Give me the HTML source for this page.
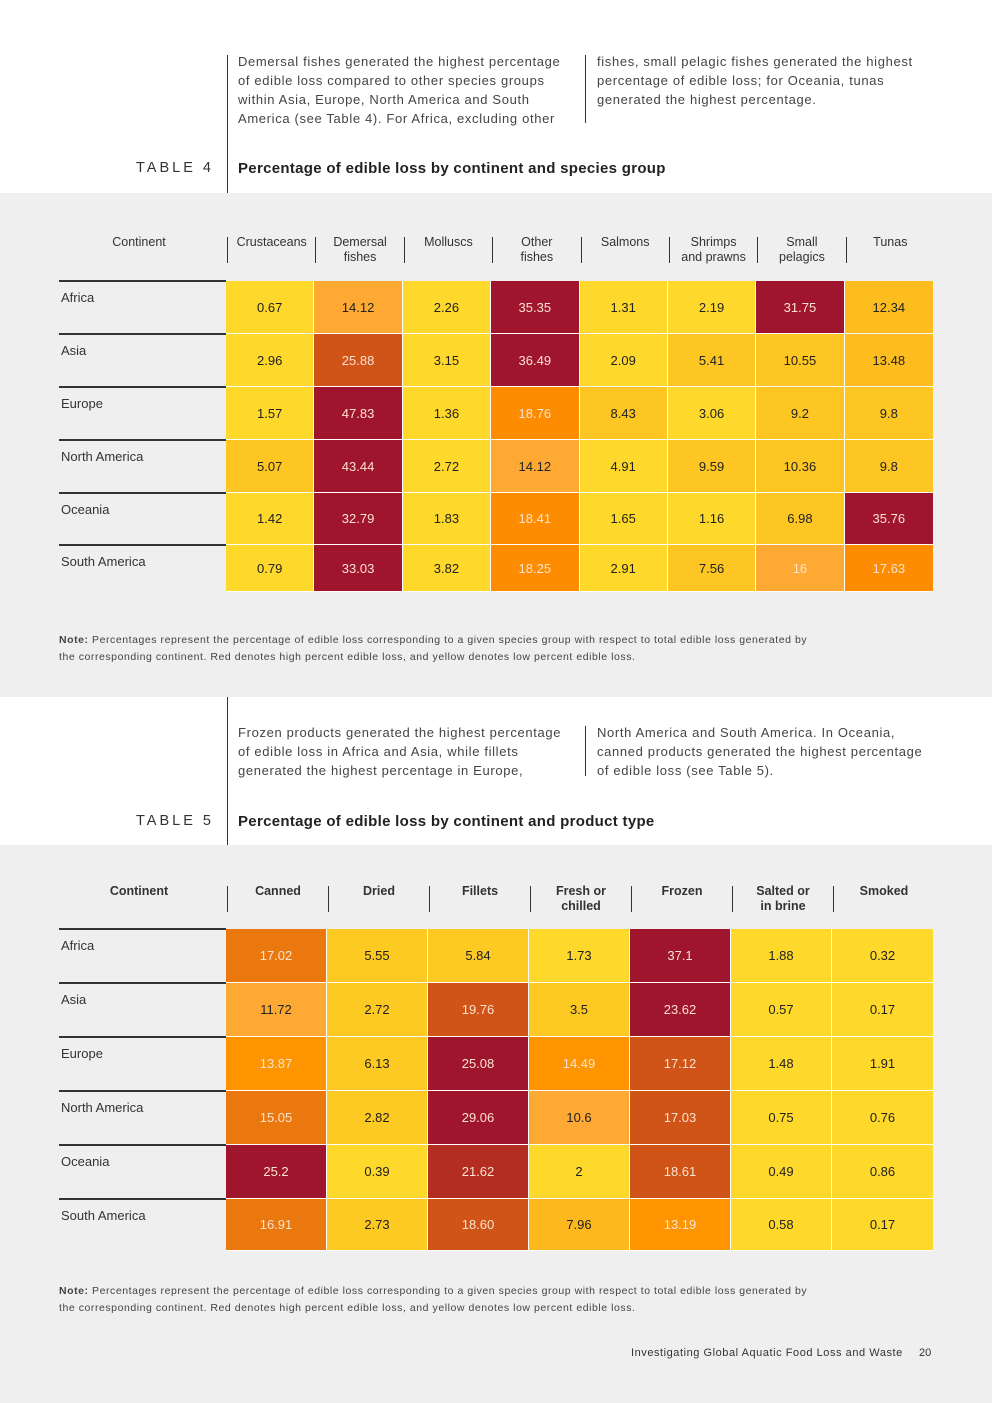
<!DOCTYPE html>
<html><head><meta charset="utf-8">
<style>
body{margin:0;width:992px;height:1403px;position:relative;font-family:"Liberation Sans",sans-serif;color:#333;background:#fff;overflow:hidden}
.abs{position:absolute}
.grey{position:absolute;left:0;width:992px;background:#efefef}
.para{position:absolute;font-size:13px;line-height:19px;color:#444;white-space:nowrap;letter-spacing:0.65px}
.vl{position:absolute;width:1px;background:#333}
.tl{position:absolute;font-size:14.5px;letter-spacing:3px;color:#333}
.tt{position:absolute;font-size:15px;font-weight:bold;color:#222;letter-spacing:0.3px}
.hd{position:absolute;font-size:12.5px;text-align:center;line-height:15px;color:#333}
.cell{position:absolute;box-sizing:border-box;border-right:1.5px solid #fff;border-bottom:1.5px solid #fff;display:flex;align-items:center;justify-content:center;font-size:13px}
.rl{position:absolute;font-size:13px;color:#333}
.rline{position:absolute;height:1.5px;background:#333;left:59px;width:167px}
.note{position:absolute;left:59px;font-size:10.5px;line-height:17px;color:#444;letter-spacing:0.55px;white-space:nowrap}
</style></head><body>
<div class="grey" style="top:193px;height:504px"></div>
<div class="grey" style="top:845px;height:558px"></div>

<div class="vl" style="left:227px;top:55px;height:138px"></div>
<div class="para" style="left:238px;top:52px">Demersal fishes generated the highest percentage<br>of edible loss compared to other species groups<br>within Asia, Europe, North America and South<br>America (see Table 4). For Africa, excluding other</div>
<div class="vl" style="left:585px;top:55px;height:68px"></div>
<div class="para" style="left:597px;top:52px">fishes, small pelagic fishes generated the highest<br>percentage of edible loss; for Oceania, tunas<br>generated the highest percentage.</div>
<div class="tl" style="left:136px;top:160px">TABLE 4</div>
<div class="tt" style="left:238px;top:160px">Percentage of edible loss by continent and species group</div>

<div class="vl" style="left:227px;top:697px;height:148px"></div>
<div class="para" style="left:238px;top:723px">Frozen products generated the highest percentage<br>of edible loss in Africa and Asia, while fillets<br>generated the highest percentage in Europe,</div>
<div class="vl" style="left:585px;top:726px;height:50px"></div>
<div class="para" style="left:597px;top:723px">North America and South America. In Oceania,<br>canned products generated the highest percentage<br>of edible loss (see Table 5).</div>
<div class="tl" style="left:136px;top:813px">TABLE 5</div>
<div class="tt" style="left:238px;top:813px">Percentage of edible loss by continent and product type</div>

<div class="note" style="top:632px"><b>Note:</b> Percentages represent the percentage of edible loss corresponding to a given species group with respect to total edible loss generated by<br>the corresponding continent. Red denotes high percent edible loss, and yellow denotes low percent edible loss.</div>
<div class="note" style="top:1283px"><b>Note:</b> Percentages represent the percentage of edible loss corresponding to a given species group with respect to total edible loss generated by<br>the corresponding continent. Red denotes high percent edible loss, and yellow denotes low percent edible loss.</div>
<div class="abs" style="left:631px;top:1347px;font-size:11px;color:#333;letter-spacing:0.55px">Investigating Global Aquatic Food Loss and Waste</div>
<div class="abs" style="left:919px;top:1347px;font-size:11px;color:#333">20</div>

<div id="t4"></div><div id="t5"></div>
<script>
const continents=["Africa","Asia","Europe","North America","Oceania","South America"];
const species=["Crustaceans","Demersal<br>fishes","Molluscs","Other<br>fishes","Salmons","Shrimps<br>and prawns","Small<br>pelagics","Tunas"];
const t4Values=[
["0.67","14.12","2.26","35.35","1.31","2.19","31.75","12.34"],
["2.96","25.88","3.15","36.49","2.09","5.41","10.55","13.48"],
["1.57","47.83","1.36","18.76","8.43","3.06","9.2","9.8"],
["5.07","43.44","2.72","14.12","4.91","9.59","10.36","9.8"],
["1.42","32.79","1.83","18.41","1.65","1.16","6.98","35.76"],
["0.79","33.03","3.82","18.25","2.91","7.56","16","17.63"]];
const products=["Canned","Dried","Fillets","Fresh or<br>chilled","Frozen","Salted or<br>in brine","Smoked"];
const t5Values=[
["17.02","5.55","5.84","1.73","37.1","1.88","0.32"],
["11.72","2.72","19.76","3.5","23.62","0.57","0.17"],
["13.87","6.13","25.08","14.49","17.12","1.48","1.91"],
["15.05","2.82","29.06","10.6","17.03","0.75","0.76"],
["25.2","0.39","21.62","2","18.61","0.49","0.86"],
["16.91","2.73","18.60","7.96","13.19","0.58","0.17"]];

function col4(v){if(v<5)return["#fed82a",0];if(v<12)return["#fdc623",0];if(v<14)return["#fdbd1f",0];if(v<15)return["#fda933",0];if(v<16.5)return["#fda933",1];if(v<20)return["#fd8c00",1];if(v<28)return["#d05318",1];return["#a0152e",1];}
function col5(v){if(v<2.5)return["#fed82a",0];if(v<7)return["#fdc923",0];if(v<10)return["#fdb81e",0];if(v<12)return["#fda933",0];if(v<15)return["#fd9400",1];if(v<17.025)return["#ea780f",1];if(v<21)return["#d05318",1];if(v<23)return["#b32d22",1];return["#a0152e",1];}

function build(root,cols,vals,o){
  const x0=226,x1=933,cw=(x1-x0)/cols.length;
  const ch=document.createElement('div');
  ch.className='hd';
  
  
  ch.style.cssText=`left:59px;width:160px;top:${o.hy}px;${o.bold?'font-weight:bold;':''}`;
  ch.innerHTML='Continent';
  root.appendChild(ch);
  cols.forEach((c,i)=>{
    const l=document.createElement('div');
    l.className='vl';
    l.style.cssText=`left:${Math.round(x0+1+i*cw)}px;top:${o.hy+2}px;height:26px`;
    root.appendChild(l);
    const h=document.createElement('div');
    h.className='hd';
    
    
    h.style.cssText=`left:${x0+i*cw+3}px;width:${cw-3}px;top:${o.hy}px;${o.bold?'font-weight:bold;':''}`;
    h.innerHTML=c;
    root.appendChild(h);
  });
  continents.forEach((r,ri)=>{
    const top=o.rows[ri],bot=o.rows[ri+1];
    const ln=document.createElement('div');
    ln.className='rline';
    ln.style.top=(top-1)+'px';
    root.appendChild(ln);
    const lb=document.createElement('div');
    lb.className='rl';
    
    
    lb.style.cssText=`left:61px;top:${top+9}px`;
    lb.textContent=r;
    root.appendChild(lb);
    vals[ri].forEach((v,ci)=>{
      const [bg,w]=o.color(parseFloat(v));
      const c=document.createElement('div');
      c.className='cell';
      
      
      c.style.cssText=`left:${x0+ci*cw}px;width:${cw}px;top:${top}px;height:${bot-top}px;background:${bg};color:${w?'#fbe3d0':'#222'};${ci==cols.length-1?'border-right:none;':''}`;
      c.textContent=v;
      root.appendChild(c);
    });
  });
}
build(document.getElementById('t4'),species,t4Values,{hy:235,rows:[281,334,387,440,493,545,592],color:col4,bold:false});
build(document.getElementById('t5'),products,t5Values,{hy:884,rows:[929,983,1037,1091,1145,1199,1251],color:col5,bold:true});
</script>
</body></html>
